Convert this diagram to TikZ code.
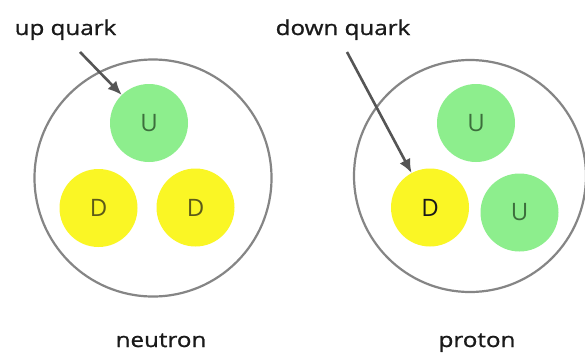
\documentclass[tikz,border=0pt]{standalone}
\usepackage{fontspec}
\setmainfont{Open Sans}
\newfontfamily\lblfont{Open Sans}[FakeBold=0.9]
\usetikzlibrary{arrows.meta}
\definecolor{ringgray}{HTML}{858585}
\definecolor{qgreen}{HTML}{8DEE8D}
\definecolor{qyellow}{HTML}{FAF625}
\definecolor{ugreen}{HTML}{3C6E3C}
\definecolor{dolive}{HTML}{5C5A18}
\definecolor{arrgray}{HTML}{555555}
\definecolor{lbltext}{HTML}{1A1A1A}
\begin{document}
\begin{tikzpicture}[x=1pt,y=-1pt,
  hadron/.style={circle, draw=ringgray, line width=2.2pt, inner sep=0pt, outer sep=0pt},
  quark/.style={circle, inner sep=0pt, outer sep=0pt, minimum size=78pt, font=\fontsize{24}{24}\selectfont},
  upq/.style={quark, fill=qgreen, text=ugreen},
  downq/.style={quark, fill=qyellow, text=dolive},
  lbl/.style={anchor=base, inner sep=0pt, text=lbltext, font=\lblfont\fontsize{20.5}{20.5}\selectfont},
  pointer/.style={draw=arrgray, line width=2.6pt, -{Latex[length=14pt,width=12pt]}}
]
\useasboundingbox[fill=white] (0,0) rectangle (585,356);

% neutron
\node[hadron, minimum size=237pt] (neutron) at (153,178) {};
\node[upq] (nU) at (149,123) {U};
\node[downq] (nD1) at (98.5,208) {D};
\node[downq] (nD2) at (195.5,207.5) {D};

% proton
\node[hadron, minimum size=232pt] (proton) at (470,176) {};
\node[upq] (pU1) at (476,123) {U};
\node[downq, text=black!90] (pD) at (430,207.5) {D};
\node[upq] (pU2) at (519.5,212.5) {U};

% labels
\node[lbl] (upl) at (65.5,35) {\scalebox{1.18}[1]{up quark}};
\node[lbl] (downl) at (343,35) {\scalebox{1.18}[1]{down quark}};
\node[lbl] (nl) at (161,347) {\scalebox{1.18}[1]{neutron}};
\node[lbl] (pl) at (477,347) {\scalebox{1.18}[1]{proton}};

% pointers
\coordinate (a1) at (80,52);
\coordinate (a2) at (347,52);
\draw[pointer] (a1) -- (nU);
\draw[pointer] (a2) -- (pD);
\end{tikzpicture}
\end{document}
